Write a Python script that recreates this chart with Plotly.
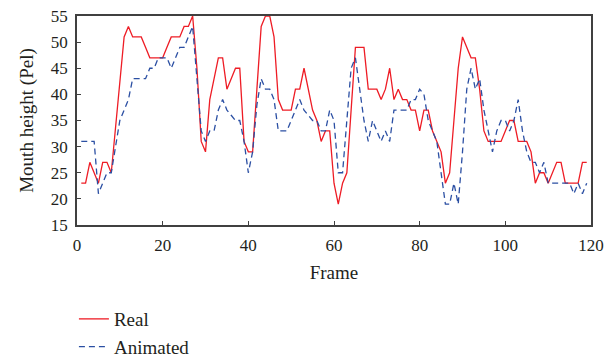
import plotly.graph_objects as go

frames = list(range(1, 120))

real = [23, 23, 27, 25, 23, 27, 27, 25, 34, 43,
        51, 53, 51, 51, 51, 49, 47, 47, 47, 47,
        49, 51, 51, 51, 53, 53, 55, 45, 31, 29,
        39, 43, 47, 47, 41, 43, 45, 45, 31, 29,
        29, 41, 53, 55, 55, 51, 39, 37, 37, 37,
        41, 41, 45, 41, 37, 35, 31, 33, 33, 23,
        19, 23, 25, 37, 49, 49, 49, 41, 41, 41,
        39, 41, 45, 39, 41, 39, 39, 37, 37, 33,
        37, 37, 33, 31, 29, 23, 25, 35, 45, 51,
        49, 47, 47, 41, 33, 31, 31, 31, 31, 33,
        35, 35, 31, 31, 31, 29, 23, 25, 25, 23,
        25, 27, 27, 23, 23, 23, 23, 27, 27]

animated = [31, 31, 31, 31, 21, 23, 25, 25, 30, 35,
            37, 39, 43, 43, 43, 43, 45, 45, 47, 47,
            47, 45, 47, 49, 49, 51, 53, 43, 33, 31,
            33, 33, 37, 39, 37, 36, 35, 35, 31, 25,
            29, 38, 43, 41, 41, 39, 33, 33, 33, 35,
            37, 39, 37, 36, 35, 35, 33, 33, 37, 35,
            25, 25, 35, 45, 47, 41, 35, 31, 35, 33,
            31, 33, 31, 37, 37, 37, 37, 39, 39, 41,
            40, 35, 33, 31, 25, 19, 19, 23, 19, 29,
            41, 45, 41, 43, 37, 33, 29, 33, 35, 35,
            33, 35, 39, 33, 29, 27, 27, 25, 27, 23,
            23, 23, 23, 23, 23, 21, 23, 21, 23]

x_ticks = [0, 20, 40, 60, 80, 100, 120]
y_ticks = [15, 20, 25, 30, 35, 40, 45, 50, 55]

FONT = "Liberation Serif"
TXT = "#231f20"

fig = go.Figure()
fig.add_trace(go.Scatter(x=frames, y=real, mode="lines", name="Real",
                         line=dict(color="#ee1c25", width=1.3)))
fig.add_trace(go.Scatter(x=frames, y=animated, mode="lines", name="Animated",
                         line=dict(color="#2b4fa3", width=1.3, dash="6px,4px")))

axis_common = dict(showgrid=False, zeroline=False, showline=True, mirror=True,
                   linecolor="#404040", linewidth=1.5, ticks="inside", ticklen=4,
                   tickcolor="#404040", tickwidth=1, ticklabelstandoff=4,
                   ticklabeloverflow="allow",
                   tickfont=dict(family=FONT, size=17, color=TXT))

fig.update_layout(
    width=605, height=380,
    margin=dict(l=69, r=22, t=8, b=163),
    paper_bgcolor="white", plot_bgcolor="white",
    font=dict(family=FONT, color=TXT),
    xaxis=dict(range=[0, 120], tickvals=x_ticks, automargin="bottom", **axis_common,
               title=dict(text="Frame", font=dict(family=FONT, size=19, color=TXT), standoff=12)),
    yaxis=dict(range=[15, 55], tickvals=y_ticks, automargin="left", **axis_common,
               title=dict(text="Mouth height (Pel)", font=dict(family=FONT, size=19, color=TXT), standoff=12)),
    showlegend=True,
    legend=dict(x=-0.006, xanchor="left", y=-0.359, yanchor="top",
                font=dict(family=FONT, size=19, color=TXT),
                bgcolor="rgba(0,0,0,0)", tracegroupgap=0, itemwidth=30),
)

fig.write_html("out.html")
